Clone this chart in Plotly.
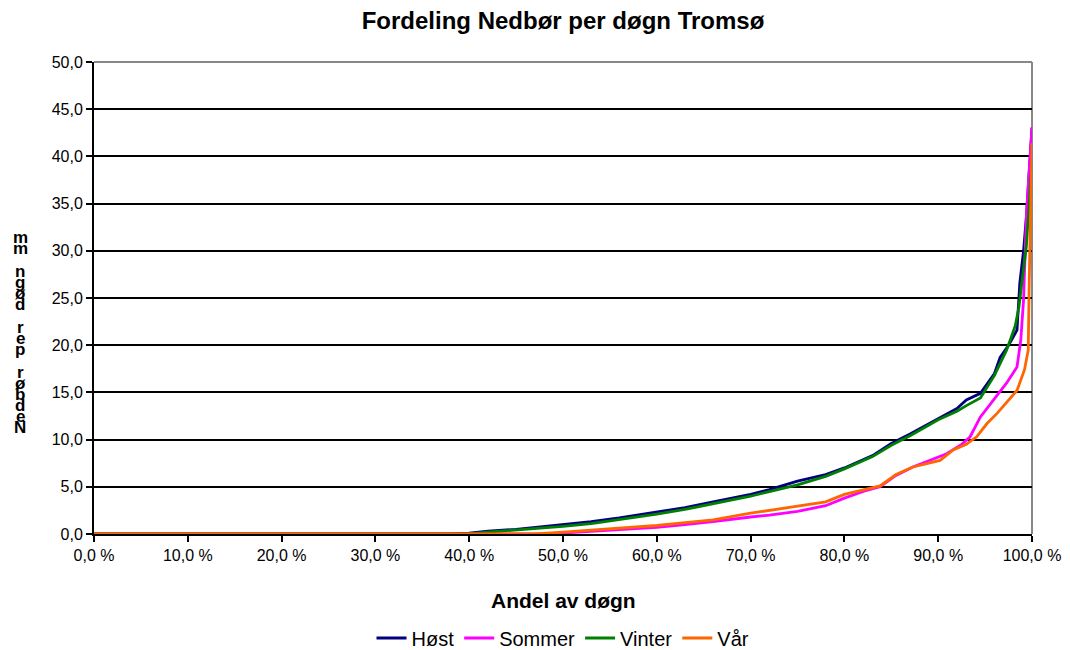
import plotly.graph_objects as go

# Andel av døgn (%) og nedbør per døgn (mm) for hver årstid
host_x = [0, 38, 40, 42, 45, 48, 50, 53, 56, 60, 63, 66, 70, 72, 75, 78, 80, 83, 85, 87,
          90, 92, 93, 94.5, 96, 96.6, 97.5, 98.4, 98.7, 99.1, 99.4, 99.7, 100]
host_y = [0, 0, 0.1, 0.3, 0.5, 0.8, 1.0, 1.3, 1.7, 2.3, 2.8, 3.4, 4.2, 4.7, 5.6, 6.3, 7.0, 8.3, 9.6, 10.6,
          12.2, 13.3, 14.2, 14.9, 17.0, 18.7, 20.0, 21.6, 26.6, 30.0, 33.6, 38.0, 43.0]

sommer_x = [0, 48, 50, 53, 56, 60, 63, 66, 70, 72, 75, 78, 80, 82, 83.8, 85.5, 87.3, 89, 90.9, 92.5,
            93.4, 94.5, 95.9, 97.3, 98.4, 98.8, 99.1, 99.4, 99.7, 100]
sommer_y = [0, 0, 0.1, 0.3, 0.5, 0.7, 1.0, 1.3, 1.8, 2.0, 2.4, 3.0, 3.8, 4.5, 5.0, 6.2, 7.1, 7.8, 8.5, 9.5,
            10.3, 12.4, 14.2, 16.0, 17.7, 20.5, 24.8, 33.6, 38.5, 43.1]

vinter_x = [0, 40, 42, 45, 48, 50, 53, 56, 60, 63, 66, 70, 72, 75, 78, 80, 83, 85, 87, 90,
            92, 93, 94.5, 96, 97.3, 98.2, 98.6, 99.0, 99.4, 99.7, 100]
vinter_y = [0, 0, 0.2, 0.4, 0.6, 0.8, 1.1, 1.5, 2.1, 2.6, 3.2, 4.0, 4.5, 5.2, 6.1, 6.9, 8.2, 9.4, 10.4, 12.1,
            13.0, 13.6, 14.4, 16.8, 19.5, 22.0, 24.0, 27.0, 30.5, 35.0, 39.6]

var_x = [0, 47, 50, 53, 56, 60, 63, 66, 70, 72, 75, 78, 80, 82, 83.8, 85.5, 87.3, 89, 90.2, 91.6,
         93, 94.1, 95.2, 96.3, 97.3, 98.4, 99.2, 99.6, 99.7, 99.85, 100]
var_y = [0, 0, 0.2, 0.4, 0.6, 0.9, 1.2, 1.5, 2.2, 2.5, 2.9, 3.4, 4.2, 4.7, 5.1, 6.3, 7.1, 7.5, 7.8, 8.9,
         9.5, 10.3, 11.7, 12.8, 13.9, 15.2, 17.4, 19.5, 26.6, 35.0, 41.4]

x_ticks = [0, 10, 20, 30, 40, 50, 60, 70, 80, 90, 100]
x_tick_labels = ["0,0 %", "10,0 %", "20,0 %", "30,0 %", "40,0 %", "50,0 %",
                 "60,0 %", "70,0 %", "80,0 %", "90,0 %", "100,0 %"]
y_ticks = [0, 5, 10, 15, 20, 25, 30, 35, 40, 45, 50]
y_tick_labels = ["0,0", "5,0", "10,0", "15,0", "20,0", "25,0",
                 "30,0", "35,0", "40,0", "45,0", "50,0"]

FONT = "Liberation Sans, Arial, sans-serif"
W, H = 1070, 650
ML, MR, MT, MB = 94, 38, 62, 116
PW, PH = W - ML - MR, H - MT - MB

series = [
    ("Høst", host_x, host_y, "#000080"),
    ("Sommer", sommer_x, sommer_y, "#FF00FF"),
    ("Vinter", vinter_x, vinter_y, "#008000"),
    ("Vår", var_x, var_y, "#FF6600"),
]

fig = go.Figure()
for name, xs, ys, color in series:
    fig.add_trace(go.Scatter(x=xs, y=ys, mode="lines", name=name,
                             line=dict(color=color, width=2.8)))

# Aksetittel i stablede tegn (nedenfra og opp)
ytitle = "Nedbør per døgn mm"
y_bottom, step = 428, 11.2
annotations = []
for i, ch in enumerate(ytitle):
    if ch == " ":
        continue
    ypix = y_bottom - i * step
    annotations.append(dict(
        text=ch, xref="paper", yref="paper",
        x=(20 - ML) / PW, y=(H - MB - ypix) / PH,
        xanchor="center", yanchor="middle", showarrow=False,
        font=dict(family=FONT, size=17, color="black", weight="bold")))

# X-aksetittel
annotations.append(dict(
    text="<b>Andel av døgn</b>", xref="paper", yref="paper",
    x=0.5, y=(H - MB - 600) / PH, xanchor="center", yanchor="middle",
    showarrow=False, font=dict(family=FONT, size=21, color="black")))

fig.update_layout(
    width=W, height=H,
    margin=dict(l=ML, r=MR, t=MT, b=MB, autoexpand=False),
    paper_bgcolor="white", plot_bgcolor="white",
    font=dict(family=FONT, size=16, color="black"),
    title=dict(text="<b>Fordeling Nedbør per døgn Tromsø</b>", x=0.5, xanchor="center",
               xref="paper", y=1 - 21 / H, yanchor="middle",
               font=dict(family=FONT, size=24)),
    xaxis=dict(range=[0, 100], tickvals=x_ticks, ticktext=x_tick_labels,
               showgrid=False, zeroline=False, showline=True, linecolor="black", linewidth=2,
               ticks="outside", ticklen=6, tickwidth=2, tickcolor="black",
               tickfont=dict(size=16), automargin=False),
    yaxis=dict(range=[0, 50], tickvals=y_ticks, ticktext=y_tick_labels,
               showgrid=True, gridcolor="black", gridwidth=2,
               zeroline=False, showline=True, linecolor="black", linewidth=2,
               ticks="outside", ticklen=6, tickwidth=2, tickcolor="black",
               tickfont=dict(size=16), automargin=False),
    legend=dict(orientation="h", x=0.5, xanchor="center", xref="paper",
                y=1 - 638 / H, yanchor="middle", yref="container",
                font=dict(size=20), itemwidth=30, traceorder="normal"),
    annotations=annotations,
    shapes=[
        dict(type="line", xref="paper", yref="paper", x0=0, x1=1, y0=1, y1=1,
             line=dict(color="#888888", width=2), layer="above"),
        dict(type="line", xref="paper", yref="paper", x0=1, x1=1, y0=0, y1=1,
             line=dict(color="#888888", width=2), layer="below"),
    ],
)

fig.write_html("out.html")
